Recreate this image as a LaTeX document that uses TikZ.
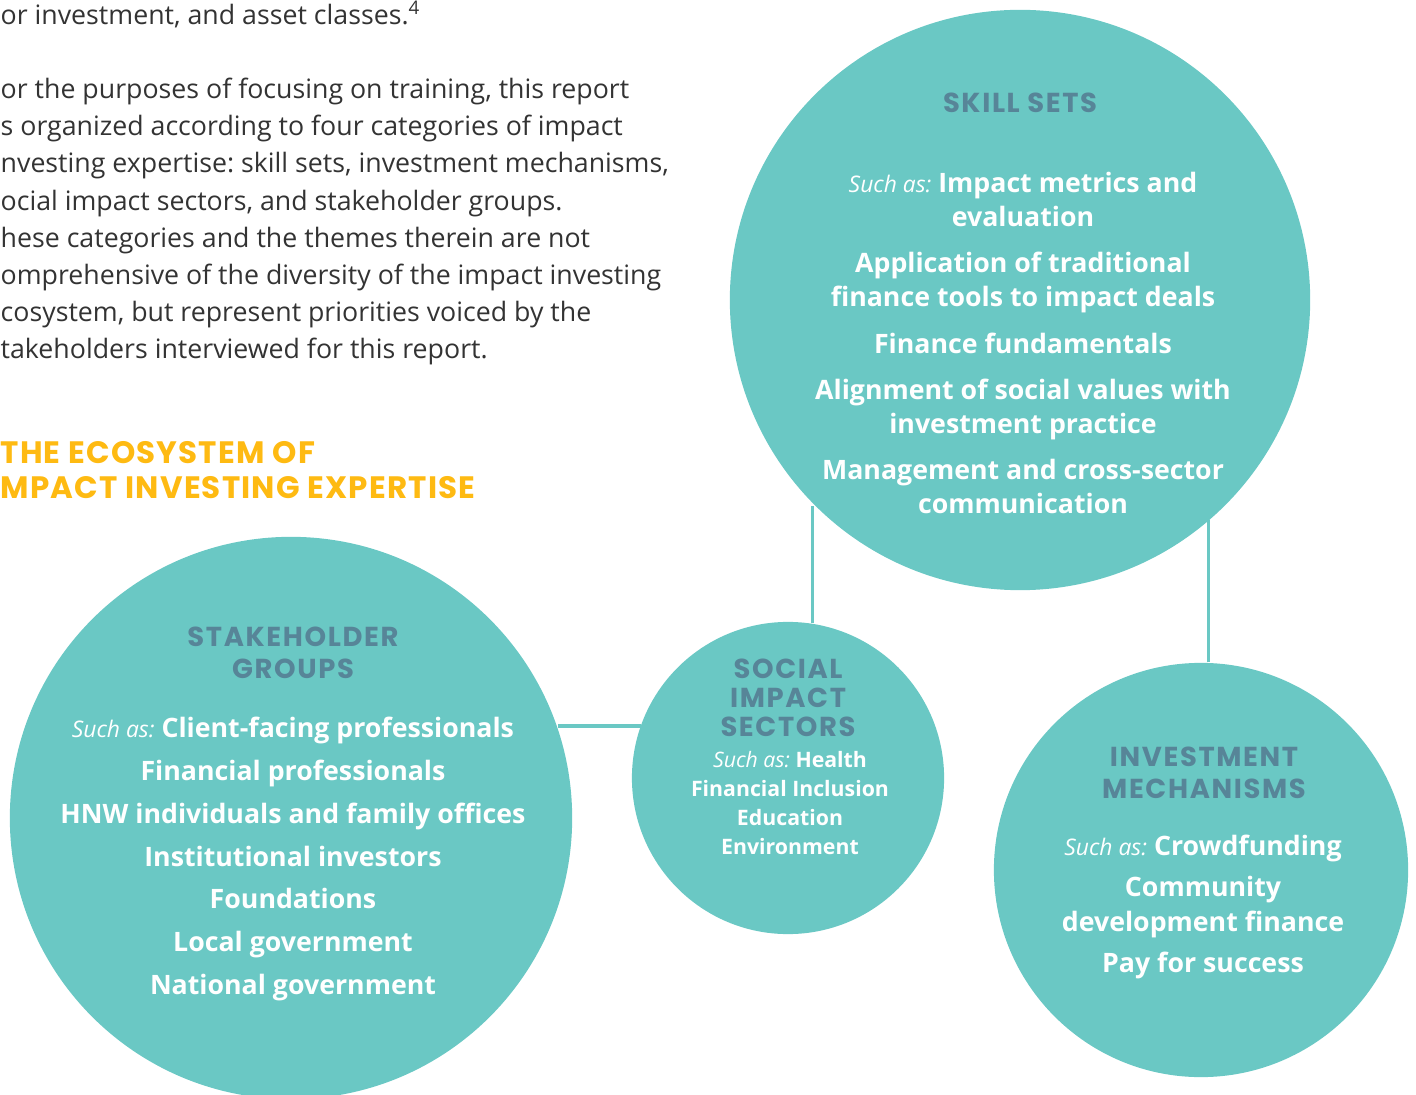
\documentclass[tikz,border=0pt]{standalone}
\usepackage{fontspec}
\setmainfont{Open Sans}
\newfontfamily\headfont[LetterSpace=6]{Poppins}
\newfontfamily\titlefont[LetterSpace=3.8]{Poppins}
\usetikzlibrary{positioning}
\definecolor{circteal}{RGB}{106,200,196}
\definecolor{headslate}{RGB}{87,133,152}
\definecolor{titleyellow}{RGB}{254,186,18}
\definecolor{bodygray}{RGB}{51,51,51}
\tikzset{
  bubble/.style={circle,fill=circteal,inner sep=0pt,draw=none},
  link/.style={circteal,line width=1pt},
  heading/.style={text=headslate,align=center,inner sep=0pt,
    font=\headfont\bfseries\fontsize{7.8}{9.1}\selectfont},
  items/.style={text=white,align=center,inner sep=0pt,
    font=\bfseries\fontsize{7.6}{9.7}\selectfont},
}
\newcommand{\suchas}{{\mdseries\itshape\fontsize{6.5}{8}\selectfont Such as:}}
\frenchspacing

\begin{document}
\begin{tikzpicture}[x=0.01cm,y=-0.01cm]
    \useasboundingbox (0,0) rectangle (1416,1095);
    \clip (0,0) rectangle (1416,1095);
    % running text and title
    \node[anchor=north west,align=left,inner sep=0pt,text=bodygray,
      font=\fontsize{7.6}{10.58}\selectfont] (para) at (0,0)
      {or investment, and asset classes.\textsuperscript{4}\\[10.58pt]
       or the purposes of focusing on training, this report\\
       s organized according to four categories of impact\\
       nvesting expertise: skill sets, investment mechanisms,\\
       ocial impact sectors, and stakeholder groups.\\
       hese categories and the themes therein are not\\
       omprehensive of the diversity of the impact investing\\
       cosystem, but represent priorities voiced by the\\
       takeholders interviewed for this report.};
    \node[anchor=west,align=left,inner sep=0pt,text=titleyellow,
      font=\titlefont\bfseries\fontsize{8.8}{10}\selectfont] (title) at (0,470)
      {THE ECOSYSTEM OF\\MPACT INVESTING EXPERTISE};
    % the four circles
    \node[bubble,minimum size=5.8cm] (skills) at (1020,300) {};
    \node[bubble,minimum size=5.62cm] (stake) at (291,818) {};
    \node[bubble,minimum size=3.12cm] (sectors) at (788,778) {};
    \node[bubble,minimum size=4.14cm] (mechs) at (1201,870) {};
    % connectors
    \draw[link] (stake.19.3) -- (stake.19.3 -| sectors.160.1);
    \draw[link] (sectors.81.2) -- (sectors.81.2 |- skills.-135.8);
    \draw[link] (mechs.88.3) -- (mechs.88.3 |- skills.-49.8);
    % skill sets
    \node[heading] (skillshead) at (1020,103) {SKILL SETS};
    \node[items] (skillsbody) at (1023,343)
      {\suchas{} Impact metrics and\\evaluation\\[3.4pt]
       Application of traditional\\finance tools to impact deals\\[3.4pt]
       Finance fundamentals\\[3.4pt]
       Alignment of social values with\\investment practice\\[3.4pt]
       Management and cross-sector\\communication};
    % stakeholder groups
    \node[heading] (stakehead) at (293,653) {STAKEHOLDER\\GROUPS};
    \node[items,font=\bfseries\fontsize{7.6}{12.2}\selectfont] (stakebody) at (293,859)
      {\suchas{} Client-facing professionals\\Financial professionals\\
       HNW individuals and family offices\\Institutional investors\\
       Foundations\\Local government\\National government};
    % social impact sectors
    \node[heading,font=\headfont\bfseries\fontsize{7.8}{8.3}\selectfont] (sectorshead)
      at (788,698) {SOCIAL\\IMPACT\\SECTORS};
    \node[items,font=\bfseries\fontsize{6.05}{8.3}\selectfont] (sectorsbody) at (790,803)
      {{\mdseries\itshape Such as:} Health\\Financial Inclusion\\Education\\Environment};
    % investment mechanisms
    \node[heading] (mechshead) at (1204,773) {INVESTMENT\\MECHANISMS};
    \node[items,font=\bfseries\fontsize{7.6}{10}\selectfont] (mechsbody) at (1203,907)
      {\suchas{} Crowdfunding\\[1.7pt]Community\\development finance\\[1.7pt]
       Pay for success};
\end{tikzpicture}
\end{document}
